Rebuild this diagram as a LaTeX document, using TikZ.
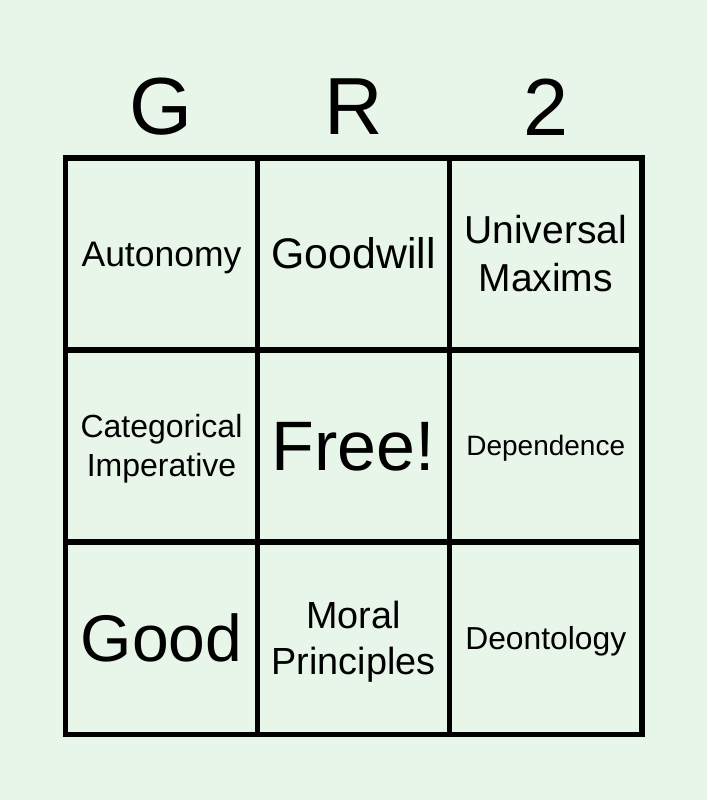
\documentclass[tikz,border=0pt]{standalone}
\usepackage{fontspec}
\setmainfont{Liberation Sans}
\usepackage{tikz}
\usetikzlibrary{positioning}
\definecolor{cardGreen}{RGB}{232, 245, 233}

\newcommand{\fsz}[1]{\fontsize{#1}{1.22\dimexpr#1pt\relax}\selectfont}
\newcommand{\lstrut}{\rule[-0.212em]{0pt}{1.117em}}

\begin{document}
\begin{tikzpicture}[x=1pt,y=-1pt,
    headletter/.style={inner sep=0pt,font=\fsz{81}},
    cellbox/.style={inner sep=0pt,align=center}]
                \fill[cardGreen] (0,0) rectangle (707,800);
                \useasboundingbox (0,0) rectangle (707,800);
                % column letters
                \node[headletter] (hG) at (161.5,107) {G};
                \node[headletter] (hR) at (353.5,107) {R};
                \node[headletter] (h2) at (545.75,107) {2};
                % grid
                \draw[line width=5.5pt] (65.5,158) rectangle (642,734.5);
                \foreach \gx in {257.5,449.5}
                    \draw[line width=5.5pt] (\gx,158) -- (\gx,734.5);
                \foreach \gy in {350,542}
                    \draw[line width=5.5pt] (65.5,\gy) -- (642,\gy);
                % row 1
                \node[cellbox,font=\fsz{35.5}] (autonomy) at (161.5,254) {\lstrut Autonomy};
                \node[cellbox,font=\fsz{42.8}] (goodwill) at (353.5,254) {\lstrut Goodwill};
                \node[cellbox,font=\fsz{39}] (maxims) at (545.75,254) {\lstrut Universal\\\lstrut Maxims};
                % row 2
                \node[cellbox,font=\fsz{32}] (imperative) at (161.5,446) {\lstrut Categorical\\\lstrut Imperative};
                \node[cellbox,font=\fsz{70}] (free) at (353.5,446) {\lstrut Free!};
                \node[cellbox,font=\fsz{28}] (dependence) at (545.75,446) {\lstrut Dependence};
                % row 3
                \node[cellbox,font=\fsz{66}] (good) at (161.5,638.5) {\lstrut Good};
                \node[cellbox,font=\fsz{37.8}] (principles) at (353.5,638.5) {\lstrut Moral\\\lstrut Principles};
                \node[cellbox,font=\fsz{31.8}] (deontology) at (545.75,638.5) {\lstrut Deontology};
            \end{tikzpicture}
\end{document}
